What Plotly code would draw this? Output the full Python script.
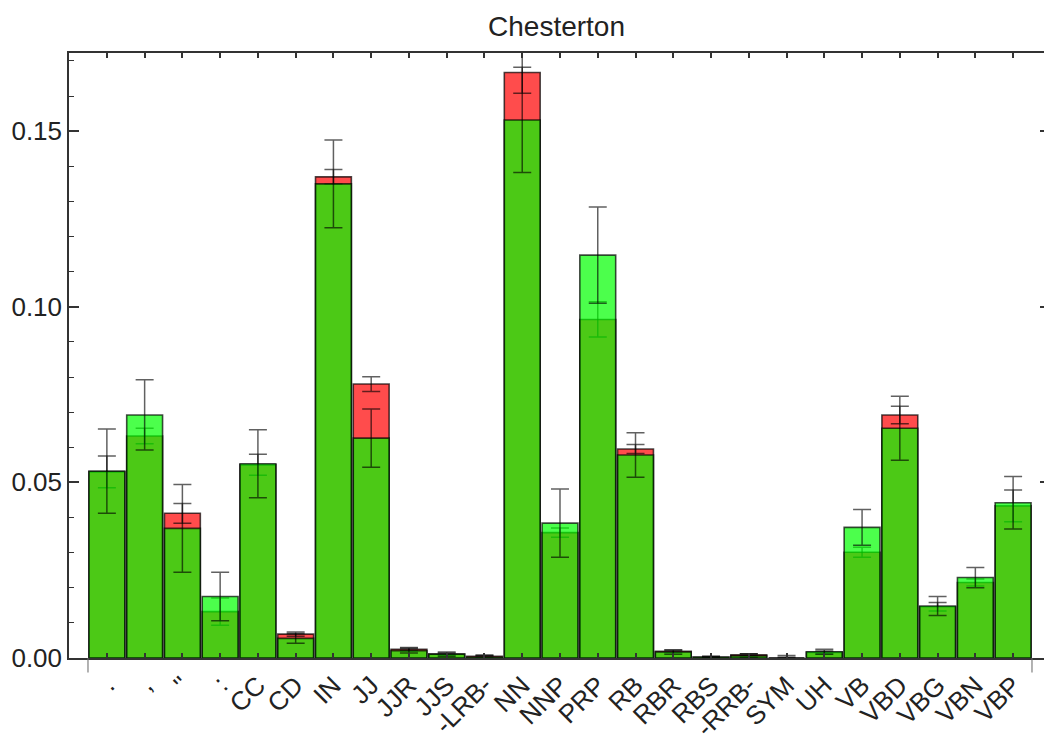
import plotly.graph_objects as go

categories = [".", ",", "''", ":", "CC", "CD", "IN", "JJ", "JJR", "JJS", "-LRB-", "NN",
              "NNP", "PRP", "RB", "RBR", "RBS", "-RRB-", "SYM", "UH", "VB", "VBD",
              "VBG", "VBN", "VBP"]

red_values = [0.0530, 0.0632, 0.0412, 0.0132, 0.0550, 0.0068, 0.1370, 0.0780, 0.0025,
              0.0011, 0.0005, 0.1667, 0.0357, 0.0964, 0.0595, 0.0019, 0.0003, 0.0009,
              0.0000, 0.0016, 0.0301, 0.0692, 0.0146, 0.0215, 0.0433]
red_errors = [0.0045, 0.0022, 0.0028, 0.0039, 0.0030, 0.0006, 0.0021, 0.0021, 0.0005,
              0.0003, 0.0003, 0.0059, 0.0013, 0.0050, 0.0013, 0.0004, 0.0002, 0.0003,
              0.0002, 0.0004, 0.0014, 0.0025, 0.0012, 0.0010, 0.0045]

green_values = [0.0532, 0.0692, 0.0369, 0.0175, 0.0553, 0.0056, 0.1350, 0.0626, 0.0021,
                0.0011, 0.0002, 0.1532, 0.0384, 0.1147, 0.0578, 0.0017, 0.0002, 0.0006,
                0.0000, 0.0018, 0.0372, 0.0654, 0.0148, 0.0229, 0.0442]
green_errors = [0.0120, 0.0100, 0.0125, 0.0069, 0.0097, 0.0014, 0.0125, 0.0083, 0.0007,
                0.0006, 0.0006, 0.0150, 0.0097, 0.0137, 0.0063, 0.0006, 0.0002, 0.0006,
                0.0007, 0.0007, 0.0051, 0.0091, 0.0027, 0.0029, 0.0075]

y_tick_values = [0.0, 0.05, 0.10, 0.15]
y_tick_labels = ["0.00", "0.05", "0.10", "0.15"]

FONT = "Liberation Sans, Arial, sans-serif"
TEXT = "#222222"
FRAME = "#333333"
Y_RANGE = [0, 0.17226]

fig = go.Figure()

def add_series(values, errors, color):
    fig.add_trace(go.Bar(
        x=categories, y=values, width=0.95,
        marker=dict(color=color, line=dict(color="rgba(0,0,0,0.7)", width=1.6)),
        error_y=dict(type="data", array=errors, visible=True,
                     color="rgba(0,0,0,0.62)", thickness=1.5, width=9),
        showlegend=False,
    ))

add_series(red_values, red_errors, "rgba(255,0,0,0.7)")
add_series(green_values, green_errors, "rgba(0,255,0,0.7)")

# invisible helper so the right-hand tick axis (frame ticks only) is drawn
fig.add_trace(go.Scatter(x=[categories[0]], y=[0], yaxis="y2", mode="markers",
                         marker=dict(opacity=0), hoverinfo="skip", showlegend=False))

n = len(categories)
for edge in (-0.5, n - 0.5):
    fig.add_shape(type="line", xref="x", yref="paper", x0=edge, x1=edge,
                  y0=0, y1=-0.024, line=dict(color="#666666", width=1))

fig.update_layout(
    width=1044, height=742,
    margin=dict(l=69, r=0, t=53, b=84),
    paper_bgcolor="white", plot_bgcolor="white",
    barmode="overlay",
    font=dict(family=FONT, size=26, color=TEXT),
    title=dict(text="Chesterton", x=0.5, xref="paper", xanchor="center",
               y=1 - 26 / 742, yref="container", yanchor="middle",
               font=dict(family=FONT, size=28, color=TEXT)),
    xaxis=dict(
        type="category", range=[-1.003, 24.818],
        showline=True, linecolor=FRAME, linewidth=1.5, mirror="ticks",
        ticks="inside", ticklen=5, tickcolor=FRAME, tickwidth=1.5,
        tickangle=-45, tickfont=dict(family=FONT, size=26, color=TEXT),
        showgrid=False, zeroline=False,
    ),
    yaxis=dict(
        range=Y_RANGE,
        tickvals=y_tick_values, ticktext=y_tick_labels,
        showline=True, linecolor=FRAME, linewidth=1.5, mirror=False,
        ticks="inside", ticklen=10, tickcolor=FRAME, tickwidth=1.5,
        minor=dict(dtick=0.01, tick0=0, ticks="inside", ticklen=5,
                   tickcolor=FRAME, tickwidth=1, showgrid=False),
        tickfont=dict(family=FONT, size=26, color=TEXT),
        showgrid=False, zeroline=False,
    ),
    yaxis2=dict(
        overlaying="y", side="right", range=Y_RANGE,
        tickvals=y_tick_values, showticklabels=False, showline=False,
        ticks="inside", ticklen=4, tickcolor=FRAME, tickwidth=1.5,
        showgrid=False, zeroline=False,
    ),
)

fig.write_html("out.html")
